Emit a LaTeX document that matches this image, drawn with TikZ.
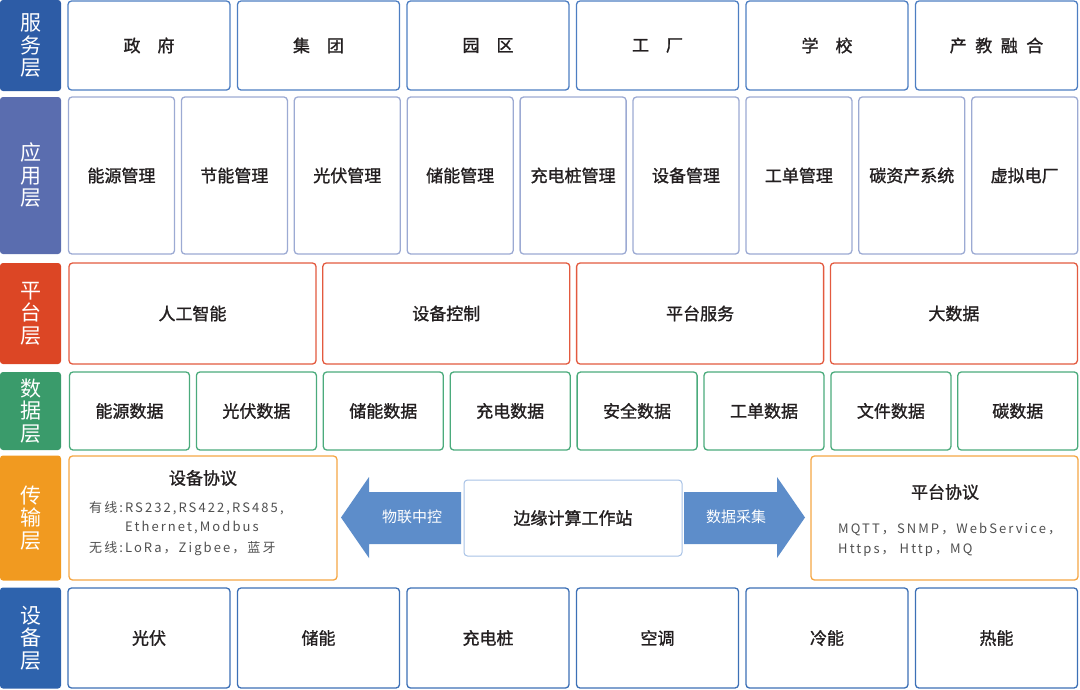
\documentclass[tikz,border=0pt]{standalone}
\usepackage{fontspec}
\setmainfont{Noto Sans CJK SC}
\newfontfamily\medf[FakeBold=1.3]{Noto Sans CJK SC}
\newfontfamily\smallf[LetterSpace=16]{Noto Sans CJK SC}
\definecolor{svcL}{HTML}{2D5CA6}
\definecolor{appL}{HTML}{5A6DAF}
\definecolor{platL}{HTML}{DC4625}
\definecolor{dataL}{HTML}{3A9B6B}
\definecolor{transL}{HTML}{F19A20}
\definecolor{devL}{HTML}{2E63AD}
\definecolor{svcB}{HTML}{4D7EC2}
\definecolor{appB}{HTML}{9CAAD3}
\definecolor{platB}{HTML}{E35A3F}
\definecolor{dataB}{HTML}{4BAB7C}
\definecolor{transB}{HTML}{F5A745}
\definecolor{devB}{HTML}{3C70B6}
\definecolor{edgeB}{HTML}{A8C2E6}
\definecolor{arrowC}{HTML}{5D8DCA}
\definecolor{txt}{HTML}{231F20}
\definecolor{gtxt}{HTML}{505050}
\begin{document}
\begin{tikzpicture}[x=1pt,y=-1pt,
  lab/.style={fill=#1, rounded corners=3pt, text=white, font=\fontsize{21}{22.5}\selectfont,
    align=center, inner sep=0pt, outer sep=0pt, minimum width=61pt},
  box/.style={draw=#1, line width=1.3pt, rounded corners=3.5pt, fill=white,
    font=\medf\fontsize{17}{20}\selectfont, text=txt, inner sep=0pt, outer sep=0pt},
  svcbox/.style={box=svcB, minimum width=162pt, minimum height=89pt},
  appbox/.style={box=appB, minimum width=106pt, minimum height=157pt},
  platbox/.style={box=platB, minimum width=247pt, minimum height=101pt},
  databox/.style={box=dataB, minimum width=120pt, minimum height=78pt},
  transbox/.style={box=transB, minimum height=124pt},
  devbox/.style={box=devB, minimum width=162pt, minimum height=100pt},
  edgebox/.style={box=edgeB, line width=1pt, minimum width=218pt, minimum height=76pt},
  small/.style={font=\smallf\fontsize{13}{15}\selectfont, text=gtxt, inner sep=0pt, anchor=west},
  title/.style={font=\medf\fontsize{17}{20}\selectfont, text=txt, inner sep=0pt},
  arrowlab/.style={font=\fontsize{15}{17}\selectfont, text=white, inner sep=0pt},
  bigarrow/.style={fill=arrowC}
]
\useasboundingbox (0,0) rectangle (1080,689);

% layer labels
\node[lab=svcL, minimum height=91pt] (ls) at (30.5,45.5) {服\\务\\层};
\node[lab=appL, minimum height=157pt] (la) at (30.5,175.5) {应\\用\\层};
\node[lab=platL, minimum height=101pt] (lp) at (30.5,313.5) {平\\台\\层};
\node[lab=dataL, minimum height=78pt] (ld) at (30.5,411) {数\\据\\层};
\node[lab=transL, minimum height=125pt] (lt) at (30.5,518) {传\\输\\层};
\node[lab=devL, minimum height=101pt] (lv) at (30.5,638) {设\\备\\层};

% service layer
\foreach \t [count=\i] in {政\hspace{1em}府, 集\hspace{1em}团, 园\hspace{1em}区, 工\hspace{1em}厂, 学\hspace{1em}校, 产\hspace{0.5em}教\hspace{0.5em}融\hspace{0.5em}合}
  \node[svcbox] (s\i) at ({149+(\i-1)*169.5},45.5) {\t};

% application layer
\foreach \t [count=\i] in {能源管理, 节能管理, 光伏管理, 储能管理, 充电桩管理, 设备管理, 工单管理, 碳资产系统, 虚拟电厂}
  \node[appbox] (a\i) at ({121.5+(\i-1)*112.9},175.5) {\t};

% platform layer
\foreach \t [count=\i] in {人工智能, 设备控制, 平台服务, 大数据}
  \node[platbox] (p\i) at ({192.5+(\i-1)*253.8},313.5) {\t};

% data layer
\foreach \t [count=\i] in {能源数据, 光伏数据, 储能数据, 充电数据, 安全数据, 工单数据, 文件数据, 碳数据}
  \node[databox] (d\i) at ({129.5+(\i-1)*126.9},411) {\t};

% transport layer
\node[transbox, minimum width=268pt] (tl) at (203,518) {};
\node[transbox, minimum width=267pt] (tr) at (944.5,518) {};
\node[edgebox] (ec) at (573,518) {边缘计算工作站};

\node[title] (tlt) at (203,478) {设备协议};
\node[small] (tl1) at (89,508) {有线:RS232,RS422,RS485,};
\node[small] (tl2) at (125,528) {Ethernet,Modbus};
\node[small] (tl3) at (89,549) {无线:LoRa，Zigbee，蓝牙};

\node[title] (trt) at (945,492) {平台协议};
\node[small] (tr1) at (838,530) {MQTT，SNMP，WebService，};
\node[small] (tr2) at (838,550) {Https，\ Http，MQ};

% big arrows
\fill[bigarrow] (461,492) -- (369,492) -- (369,477) -- (341,517.5) -- (369,558) -- (369,544) -- (461,544) -- cycle;
\fill[bigarrow] (684,492) -- (777,492) -- (777,477) -- (805,517.5) -- (777,558) -- (777,544) -- (684,544) -- cycle;
\node[arrowlab] (al) at (412,517) {物联中控};
\node[arrowlab] (ar) at (736,517) {数据采集};

% device layer
\foreach \t [count=\i] in {光伏, 储能, 充电桩, 空调, 冷能, 热能}
  \node[devbox] (v\i) at ({149+(\i-1)*169.5},638) {\t};
\end{tikzpicture}
\end{document}
